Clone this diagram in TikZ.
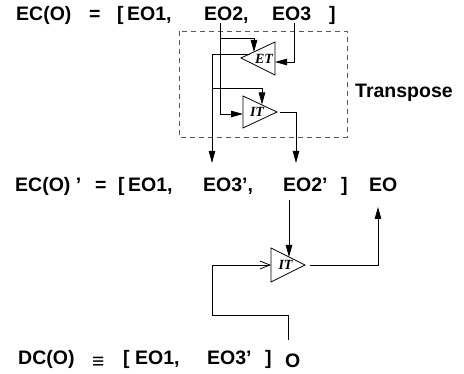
\documentclass[tikz,border=0pt]{standalone}
\usepackage{fontspec}
\setmainfont{Liberation Sans}
\newfontfamily\lblfont{Liberation Serif}
\usetikzlibrary{arrows.meta}
\begin{document}
\begin{tikzpicture}[x=1pt,y=-1pt,
  txt/.style={anchor=base west, inner sep=0pt, font=\fontsize{19.5}{20}\selectfont\bfseries},
  eqv/.style={anchor=base west, inner sep=0pt, font=\fontsize{21}{21}\selectfont},
  tri/.style={draw, line width=0.8pt},
  wire/.style={line width=0.8pt},
  arr/.style={wire,-{Triangle[length=12pt,width=6.5pt]}},
  oarr/.style={wire,-{Straight Barb[length=10pt,width=8pt]}},
  lab/.style={font=\lblfont\fontsize{14}{14}\selectfont\bfseries\itshape, inner sep=0pt},
  dbox/.style={draw=black!65, line width=0.9pt, dash pattern=on 5pt off 4pt}]
\useasboundingbox (0,0) rectangle (464,374);
% row 1
\node[txt] (ec1) at (16,21) {EC(O)};
\node[txt] (eq1) at (89,21) {=};
\node[txt] (lb1) at (117,21) {[};
\node[txt] (a1) at (127,21) {EO1,};
\node[txt] (a2) at (204,21) {EO2,};
\node[txt] (a3) at (272,21) {EO3};
\node[txt] (rb1) at (329,21) {]};
% transpose box
\draw[dbox] (179,31) rectangle (347,137);
\node[txt] (tp) at (355,98) {Transpose};
% row 2
\node[txt] (ec2) at (15,192) {EC(O) ’};
\node[txt] (eq2) at (95,192) {=};
\node[txt] (lb2) at (118,192) {[};
\node[txt] (b1) at (128,192) {EO1,};
\node[txt] (b3) at (203,192) {EO3’,};
\node[txt] (b2) at (283,192) {EO2’};
\node[txt] (rb2) at (341,192) {]};
\node[txt] (eo) at (369,192) {EO};
% row 3
\node[txt] (dc) at (18,365) {DC(O)};
\node[eqv] (eq3) at (92,369) {≡};
\node[txt] (lb3) at (123,365) {[};
\node[txt] (c1) at (135,365) {EO1,};
\node[txt] (c3) at (207,365) {EO3’};
\node[txt] (rb3) at (265,365) {]};
\node[txt] (o) at (285,368) {O};
% triangles
\coordinate (ETtip) at (241,58);
\coordinate (IT1tip) at (277,112);
\coordinate (IT2tip) at (305,265);
\draw[tri] (ETtip) -- (275,42) -- (275,75) -- cycle;
\draw[tri] (243,96) -- (IT1tip) -- (243,128) -- cycle;
\draw[tri] (271,248) -- (IT2tip) -- (271,282) -- cycle;
\node[lab] (etl) at (264,59) {ET};
\node[lab] (it1l) at (257,112) {IT};
\node[lab] (it2l) at (285.5,265) {IT};
% connectors in the transpose
\coordinate (s2) at (220,23);
\coordinate (s3) at (294,23);
\draw[arr] (s2) -- (220,114) -- (243,114);
\draw[arr] (220,38) -- (254,38) -- (254,52);
\draw[arr] (s3) -- (294,62) -- (275,62);
\draw[arr] (249.5,54) -- (212,54) -- (212,163);
\draw[arr] (212,88) -- (262,88) -- (262,104.5);
\draw[arr] (280,112) -- (296,112) -- (296,163);
% lower part
\draw[arr] (289,200) -- (289,257);
\draw[oarr] (288,340) -- (288,315) -- (212,315) -- (212,265) -- (271,265);
\draw[arr] (310,265) -- (378,265) -- (378,207);
\end{tikzpicture}
\end{document}
